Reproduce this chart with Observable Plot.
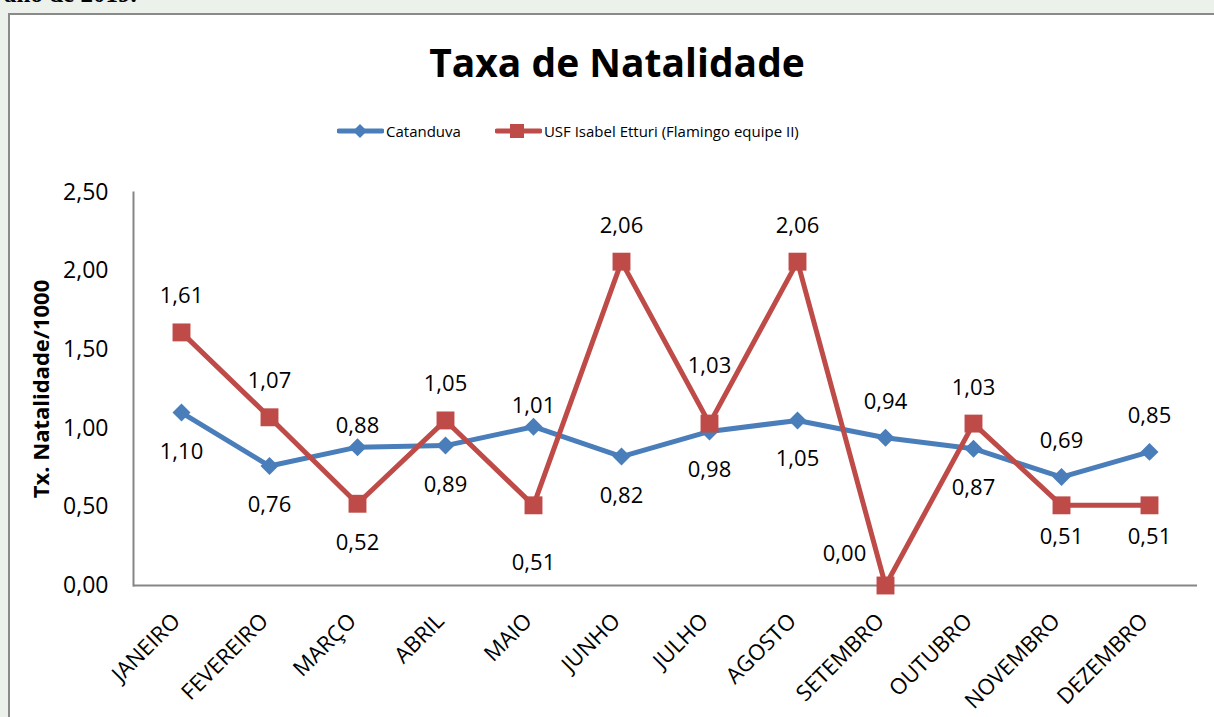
<!DOCTYPE html>
<html>
<head>
<meta charset="utf-8">
<script src="https://cdn.jsdelivr.net/npm/d3@7"></script>
<script src="https://cdn.jsdelivr.net/npm/@observablehq/plot@0.6"></script>
<style>
  html, body { margin: 0; padding: 0; }
  body { width: 1214px; height: 717px; overflow: hidden; background: #edf1ec; position: relative; font-family: "Open Sans", sans-serif; }
  #topnote { position: absolute; left: 4px; top: -20px; font-family: "Liberation Serif", serif; font-weight: bold; font-size: 25px; color: #000; }
  #box { position: absolute; left: 8px; top: 13px; width: 1230px; height: 720px; border: 2px solid #8a8a8a; background: #fff; box-sizing: border-box; }
  #title { position: absolute; left: 0; width: 1234px; top: 39px; text-align: center; font-weight: bold; font-size: 39px; color: #000; line-height: 1.2; }
  #legend { position: absolute; top: 120px; left: 337px; height: 22px; display: flex; align-items: center; font-size: 15px; color: #000; }
  #legend .item { display: flex; align-items: center; }
  #legend svg { display: block; }
  #chart { position: absolute; left: 0; top: 160px; }
</style>
</head>
<body>
<div id="topnote">ano de 2019.</div>
<div id="box"></div>
<div id="title">Taxa de Natalidade</div>
<div id="legend"></div>
<div id="chart"></div>
<script>
const months = ["JANEIRO","FEVEREIRO","MARÇO","ABRIL","MAIO","JUNHO","JULHO","AGOSTO","SETEMBRO","OUTUBRO","NOVEMBRO","DEZEMBRO"];
const seriesNames = ["Catanduva", "USF Isabel Etturi (Flamingo equipe II)"];
const catanduva = [1.10, 0.76, 0.88, 0.89, 1.01, 0.82, 0.98, 1.05, 0.94, 0.87, 0.69, 0.85];
const usf = [1.61, 1.07, 0.52, 1.05, 0.51, 2.06, 1.03, 2.06, 0.00, 1.03, 0.51, 0.51];
const yTicks = [0, 0.5, 1, 1.5, 2, 2.5];
const yLabel = "Tx. Natalidade/1000";
const catLabelPlacement = ["below","below","aboveNear","below","aboveNear","below","below","below","above","below","above","above"];
const usfLabelPlacement = ["above","above","below","above","belowFar","above","aboveFar","above","left","above","belowNear","belowNear"];

const colors = {"Catanduva": "#4a7ebb", "USF Isabel Etturi (Flamingo equipe II)": "#be4b48"};
const fmt = v => v.toFixed(2).replace(".", ",");

const rows = [];
months.forEach((m, i) => {
  rows.push({month: m, value: catanduva[i], series: seriesNames[0], place: catLabelPlacement[i]});
  rows.push({month: m, value: usf[i], series: seriesNames[1], place: usfLabelPlacement[i]});
});

const offsets = {
  above: [0, -36], aboveNear: [0, -21], aboveFar: [0, -58],
  below: [0, 39], belowNear: [0, 32], belowFar: [0, 58],
  left: [-41, -32]
};

const labelMarks = Object.entries(offsets).map(([k, [dx, dy]]) =>
  Plot.text(rows.filter(d => d.place === k), {
    x: "month", y: "value", text: d => fmt(d.value), dx, dy,
    fill: "#000", fontSize: 22
  })
);

const chart = Plot.plot({
  width: 1214, height: 557,
  marginLeft: 133, marginRight: 17, marginTop: 32, marginBottom: 132,
  style: {fontFamily: "Open Sans, sans-serif", fontSize: "22px", background: "transparent", color: "#000"},
  x: {type: "band", domain: months, padding: 0},
  y: {domain: [0, 2.5]},
  marks: [
    Plot.axisY({ticks: yTicks, tickFormat: fmt, tickSize: 0, tickPadding: 25, label: null, fontSize: 23}),
    Plot.axisX({tickRotate: -45, tickSize: 0, tickPadding: 27, dx: -5, dy: 5, label: null, fontSize: 22}),
    Plot.frame({anchor: "left", stroke: "#868686", strokeWidth: 2}),
    Plot.ruleY([0], {stroke: "#868686", strokeWidth: 2}),
    Plot.text([yLabel], {text: d => d, frameAnchor: "left", textAnchor: "middle", rotate: -90, dx: -92, fontWeight: "bold", fontSize: 22, fill: "#000"}),
    Plot.line(rows, {x: "month", y: "value", z: "series", stroke: d => colors[d.series], strokeWidth: 5, strokeLinejoin: "round"}),
    Plot.dot(rows.filter(d => d.series === seriesNames[0]), {x: "month", y: "value", symbol: "diamond2", r: 8.1, fill: colors[seriesNames[0]], stroke: "none"}),
    Plot.dot(rows.filter(d => d.series === seriesNames[1]), {x: "month", y: "value", symbol: "square", r: 10.1, fill: colors[seriesNames[1]], stroke: "none"}),
    ...labelMarks
  ]
});
document.getElementById("chart").appendChild(chart);

// legend
const legend = document.getElementById("legend");
seriesNames.forEach((name, i) => {
  const item = document.createElement("div");
  item.className = "item";
  item.style.marginRight = i === 0 ? "34px" : "0";
  const c = colors[name];
  const marker = i === 0
    ? `<path d="M23,2 L30,9 L23,16 L16,9 Z" fill="${c}"/>`
    : `<rect x="15" y="2" width="14" height="14" fill="${c}"/>`;
  item.innerHTML = `<svg width="47" height="18"><line x1="2" y1="9" x2="45" y2="9" stroke="${c}" stroke-width="5" stroke-linecap="round"/>${marker}</svg><span style="margin-left:2px">${name}</span>`;
  legend.appendChild(item);
});
</script>
</body>
</html>
